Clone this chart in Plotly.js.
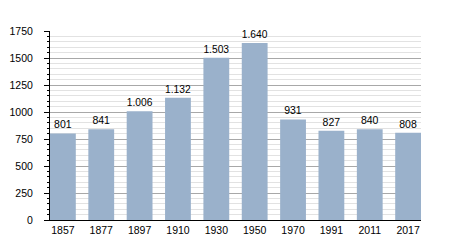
<!DOCTYPE html>
<html><head><meta charset="utf-8">
<script src="https://cdn.plot.ly/plotly-3.0.1.min.js"></script>
<style>html,body{margin:0;padding:0;background:#fff}#c{width:450px;height:250px}</style>
</head><body><div id="c"></div>
<script>
const years = ["1857","1877","1897","1910","1930","1950","1970","1991","2011","2017"];
const population = [801, 841, 1006, 1132, 1503, 1640, 931, 827, 840, 808];
const labels = ["801","841","1.006","1.132","1.503","1.640","931","827","840","808"];
const yTicks = [0,250,500,750,1000,1250,1500,1750];

Plotly.newPlot('c', [{
  type: 'bar', x: years, y: population, text: labels,
  textposition: 'outside', cliponaxis: false,
  textfont: {family: 'Liberation Sans, Arial, sans-serif', size: 10.5, color: '#000'},
  marker: {color: '#9ab1cb'}, hoverinfo: 'none'
}], {
  width: 450, height: 250,
  margin: {l: 50, r: 29, t: 31, b: 30},
  paper_bgcolor: '#fff', plot_bgcolor: '#fff',
  bargap: 0.327,
  showlegend: false,
  font: {family: 'Liberation Sans, Arial, sans-serif', size: 10.5, color: '#000'},
  xaxis: {type: 'category', range: [-0.336, 9.336], showline: true, linecolor: '#000', linewidth: 1,
    ticks: '', showgrid: false, zeroline: false, tickfont: {size: 10.5}, fixedrange: true},
  yaxis: {range: [0, 1750], tickvals: yTicks, ticktext: yTicks.map(String),
    showline: true, linecolor: '#000', linewidth: 1, ticks: 'outside', ticklen: 5, tickcolor: '#000',
    ticklabelstandoff: 9,
    showgrid: true, gridcolor: '#a8a8a8', gridwidth: 1, zeroline: false, tickfont: {size: 10.5},
    minor: {dtick: 50, showgrid: true, gridcolor: '#e2e2e2', gridwidth: 1, ticks: 'outside', ticklen: 2, tickcolor: '#000'}
  }
}, {staticPlot: true});
</script></body></html>
